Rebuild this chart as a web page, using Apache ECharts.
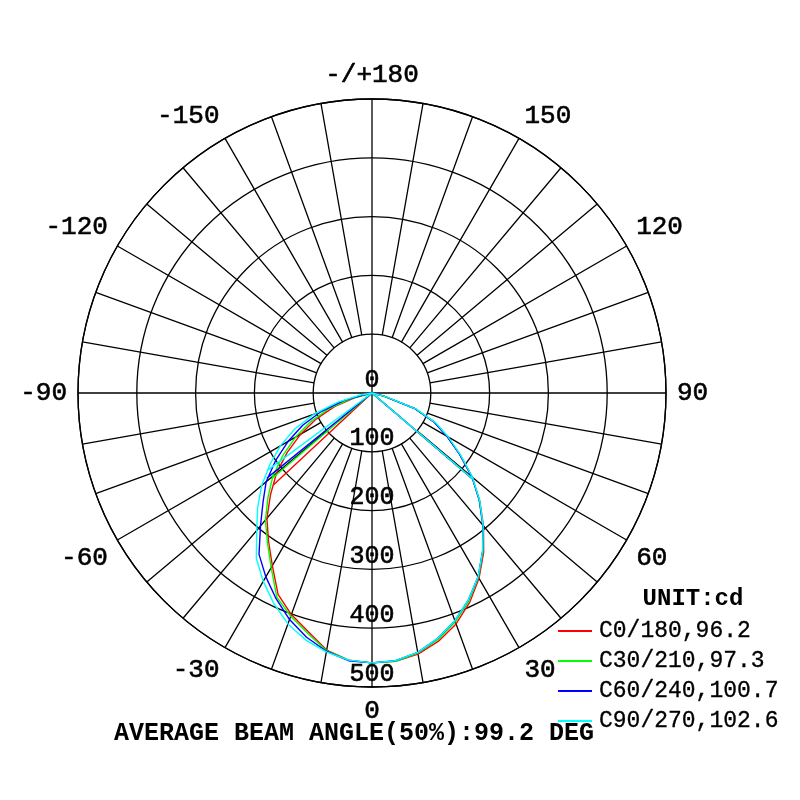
<!DOCTYPE html>
<html>
<head>
<meta charset="utf-8">
<script src="https://cdn.jsdelivr.net/npm/echarts@6/dist/echarts.min.js"></script>
<style>
  html, body { margin: 0; padding: 0; background: #fff; }
  #chart { width: 800px; height: 800px; }
</style>
</head>
<body>
<div id="chart"></div>
<script>
// gamma angles of the arc points (negative = left half, C180 side)
const gammaAngles = [-85, -80, -75, -70, -65, -60, -55, -50, -45, -40, -35, -30, -25, -20, -15, -10, -5,
  0, 5, 10, 15, 20, 25, 30, 35, 40, 45, 50, 55, 60, 65, 70, 75, 80, 85];

// intensities in cd
const c0Values = [0, 0, 30, 68, 105, 140, 176, 212, 244, 278, 307, 339, 378, 401, 420, 444, 456,
  459, 458, 451, 437, 418, 393, 364, 331, 295, 259, 222, 182, 148, 117, 78, 22, 0, 0];
const c30Values = [0, 0, 38, 78, 115, 150, 185, 220, 250, 282, 310, 343, 383, 404, 423, 445, 456,
  459, 458, 449, 434, 414, 390, 362, 329, 294, 258, 223, 183, 148, 117, 78, 22, 0, 0];
const c60Values = [0, 8, 50, 92, 130, 165, 200, 235, 262, 295, 335, 361, 386, 410, 430, 446, 457,
  459, 457, 448, 432, 412, 388, 361, 328, 293, 258, 222, 182, 147, 116, 77, 21, 0, 0];
const c90Values = [0, 20, 60, 105, 145, 180, 212, 245, 275, 305, 343, 370, 395, 418, 435, 447, 456,
  459, 457, 448, 432, 412, 388, 361, 328, 294, 259, 223, 184, 150, 119, 80, 24, 0, 0];

// [gamma, cd] of the corner where the straight ray from the centre meets each curve
const leftKnees = [[-47, 230], [-49.5, 225], [-51, 230], [-53.5, 222]];
const rightKnees = [[49.5, 226], [49.5, 226], [49.5, 225], [49.5, 226]];

const seriesNames = ['C0/180,96.2', 'C30/210,97.3', 'C60/240,100.7', 'C90/270,102.6'];
const seriesColors = ['#ff0000', '#00ff00', '#0000ff', '#00ffff'];
const seriesValues = [c0Values, c30Values, c60Values, c90Values];

const radiusTicks = [0, 100, 200, 300, 400, 500];
const titleText = 'AVERAGE BEAM ANGLE(50%):99.2 DEG';
const unitText = 'UNIT:cd';

const MONO = '"Liberation Mono", "DejaVu Sans Mono", monospace';

// angle axis runs 0..360 counter-clockwise from the bottom
function axisAngle(g) {
  return g < 0 ? g + 360 : g;
}

function curveData(values, leftKnee, rightKnee) {
  const pts = [[leftKnee[1], axisAngle(leftKnee[0])], [0, 0]];
  gammaAngles.forEach((g, i) => pts.push([values[i], axisAngle(g)]));
  pts.push([0, 0]);
  pts.push([rightKnee[1], axisAngle(rightKnee[0])]);
  return pts;
}

// spokes every 10 deg, from the 100 circle outwards; the cross runs through the centre
const spokeData = [];
for (let a = 0; a < 360; a += 10) {
  const inner = a % 90 === 0 ? 0 : 100;
  spokeData.push([inner, a], [500, a], ['-', '-']);
}

const curveSeries = seriesNames.map((name, i) => ({
  name,
  type: 'line',
  coordinateSystem: 'polar',
  symbol: 'none',
  silent: true,
  z: 3 + i,
  itemStyle: { color: seriesColors[i] },
  lineStyle: { color: seriesColors[i], width: 1.4 },
  data: curveData(seriesValues[i], leftKnees[i], rightKnees[i]),
}));

const labelFont = {
  color: '#000',
  fontFamily: MONO,
  textBorderColor: '#000',
  textBorderWidth: 0.6,
};

const chart = echarts.init(document.getElementById('chart'));

chart.setOption({
  backgroundColor: '#fff',
  animation: false,
  title: [
    {
      text: titleText,
      left: 349,
      top: 716,
      textAlign: 'center',
      textStyle: { fontFamily: MONO, fontSize: 25, fontWeight: 'bold', color: '#000' },
    },
    {
      text: unitText,
      left: 688,
      top: 582,
      textAlign: 'center',
      textStyle: { fontFamily: MONO, fontSize: 24, fontWeight: 'bold', color: '#000' },
    },
  ],
  legend: {
    data: seriesNames,
    orient: 'vertical',
    left: 553,
    top: 614,
    itemWidth: 34,
    itemHeight: 2,
    itemGap: 6,
    icon: 'rect',
    selectedMode: false,
    textStyle: { ...labelFont, textBorderWidth: 0.3, fontSize: 23, lineHeight: 24, padding: [0, 0, 0, 2] },
  },
  polar: { center: [372, 393], radius: 294 },
  angleAxis: {
    type: 'value',
    min: 0,
    max: 360,
    interval: 30,
    startAngle: 270,
    clockwise: false,
    axisLine: { lineStyle: { color: '#000', width: 1.3 } },
    axisTick: { show: false },
    splitLine: { show: false },
    axisLabel: {
      ...labelFont,
      margin: 11,
      fontSize: 26,
      formatter: (v) => {
        if (v === 360) return '';
        if (v === 180) return '-/+180';
        return String(v > 180 ? v - 360 : v);
      },
    },
  },
  radiusAxis: {
    type: 'value',
    min: 0,
    max: 500,
    interval: 100,
    axisLine: { show: false },
    axisTick: { show: false },
    axisLabel: { show: false },
    splitLine: { lineStyle: { color: '#000', width: 1.3 } },
  },
  series: [
    {
      name: 'spokes',
      type: 'line',
      coordinateSystem: 'polar',
      symbol: 'none',
      silent: true,
      z: 1,
      lineStyle: { color: '#000', width: 1.3 },
      data: spokeData,
    },
    ...curveSeries,
    {
      name: 'radius labels',
      type: 'scatter',
      coordinateSystem: 'polar',
      symbolSize: 1,
      silent: true,
      z: 10,
      itemStyle: { color: 'transparent', opacity: 1 },
      label: {
        ...labelFont,
        show: true,
        opacity: 1,
        position: 'top',
        distance: 0,
        fontSize: 25,
        formatter: (p) => String(p.value[0]),
      },
      data: radiusTicks.map((r) => [r, 0]),
    },
  ],
});
</script>
</body>
</html>
